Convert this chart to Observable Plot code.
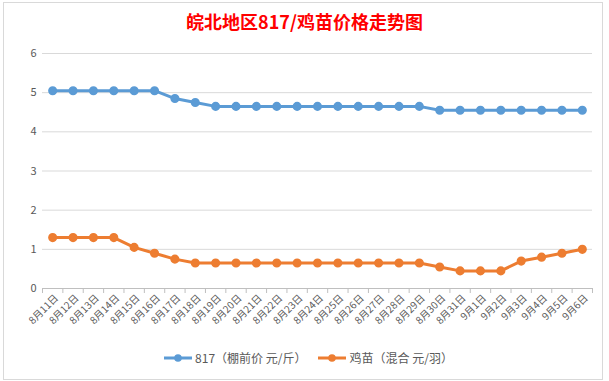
<!DOCTYPE html>
<html><head><meta charset="utf-8">
<script src="https://cdn.jsdelivr.net/npm/d3@7"></script>
<script src="https://cdn.jsdelivr.net/npm/@observablehq/plot@0.6"></script>
<style>
body{margin:0;background:#fff;font-family:"Noto Sans CJK SC","Noto Sans",sans-serif;}
#wrap{position:relative;width:609px;height:381px;overflow:hidden;}
#frame{position:absolute;left:3px;top:2px;width:600px;height:378px;border:1px solid #d9d9d9;box-sizing:border-box;z-index:5;pointer-events:none;}
#title{position:absolute;top:9px;left:0;width:609px;text-align:center;font-size:18px;font-weight:bold;color:#ff0000;line-height:24px;}
#chart{position:absolute;top:40px;left:0;}
#legend{position:absolute;top:349px;left:4px;width:609px;display:flex;justify-content:center;gap:12px;font-size:12px;color:#595959;line-height:18px;}
.item{display:flex;align-items:center;gap:3px;}
</style></head>
<body><div id="wrap"><div id="title">皖北地区817/鸡苗价格走势图</div><div id="chart"></div><div id="legend"></div><div id="frame"></div></div>
<script>
const dates = ["8月11日","8月12日","8月13日","8月14日","8月15日","8月16日","8月17日","8月18日","8月19日","8月20日","8月21日","8月22日","8月23日","8月24日","8月25日","8月26日","8月27日","8月28日","8月29日","8月30日","8月31日","9月1日","9月2日","9月3日","9月4日","9月5日","9月6日"];
const price817 = [5.05,5.05,5.05,5.05,5.05,5.05,4.85,4.75,4.65,4.65,4.65,4.65,4.65,4.65,4.65,4.65,4.65,4.65,4.65,4.55,4.55,4.55,4.55,4.55,4.55,4.55,4.55];
const chick = [1.3,1.3,1.3,1.3,1.05,0.9,0.75,0.65,0.65,0.65,0.65,0.65,0.65,0.65,0.65,0.65,0.65,0.65,0.65,0.55,0.45,0.45,0.45,0.7,0.8,0.9,1.0];
const seriesNames = ["817（棚前价 元/斤）","鸡苗（混合 元/羽）"];
const colors = ["#5b9bd5","#ed7d31"];
const yTicks = [0,1,2,3,4,5,6];

const data = [];
dates.forEach((d,i)=>{
  data.push({date:d, series:seriesNames[0], value:price817[i]});
  data.push({date:d, series:seriesNames[1], value:chick[i]});
});

const W = 609, H = 300, mL = 42, mR = 17;
const step = (W - mL - mR) / dates.length;

const chart = Plot.plot({
  width: W, height: H,
  marginLeft: mL, marginRight: mR, marginTop: 13, marginBottom: 52,
  style: {fontFamily: '"Noto Sans CJK SC","Noto Sans",sans-serif', fontSize: "11px", color: "#595959", background: "transparent"},
  x: {type: "point", domain: dates, padding: 0.5, align: 0.5, round: false, label: null},
  y: {domain: [0, 6], ticks: yTicks, label: null},
  color: {domain: seriesNames, range: colors},
  marks: [
    Plot.gridY(yTicks, {stroke: "#d9d9d9", strokeOpacity: 1}),
    Plot.axisY(yTicks, {tickSize: 0, tickPadding: 6, fill: "#595959", fontSize: 11}),
    Plot.ruleY([0], {stroke: "#bfbfbf"}),
    Plot.axisX({tickSize: 5, stroke: "#bfbfbf", strokeOpacity: 1, tickFormat: () => "", dx: -step/2}),
    Plot.axisX({ticks: [dates[dates.length-1]], tickSize: 5, stroke: "#bfbfbf", strokeOpacity: 1, tickFormat: () => "", dx: step/2}),
    Plot.axisX({tickSize: 0, tickRotate: -45, tickPadding: 8, dx: 4, fill: "#595959", fontSize: 10}),
    Plot.line(data, {x: "date", y: "value", z: "series", stroke: "series", strokeWidth: 3}),
    Plot.dot(data, {x: "date", y: "value", fill: "series", r: 3.8, stroke: "series"})
  ]
});
document.getElementById("chart").appendChild(chart);

const leg = document.getElementById("legend");
seriesNames.forEach((n,i)=>{
  const it = document.createElement("div"); it.className="item";
  it.innerHTML = `<svg width="28" height="10"><line x1="0" y1="5" x2="28" y2="5" stroke="${colors[i]}" stroke-width="3"/><circle cx="14" cy="5" r="3.8" fill="${colors[i]}"/></svg><span>${n}</span>`;
  leg.appendChild(it);
});
</script></body></html>
